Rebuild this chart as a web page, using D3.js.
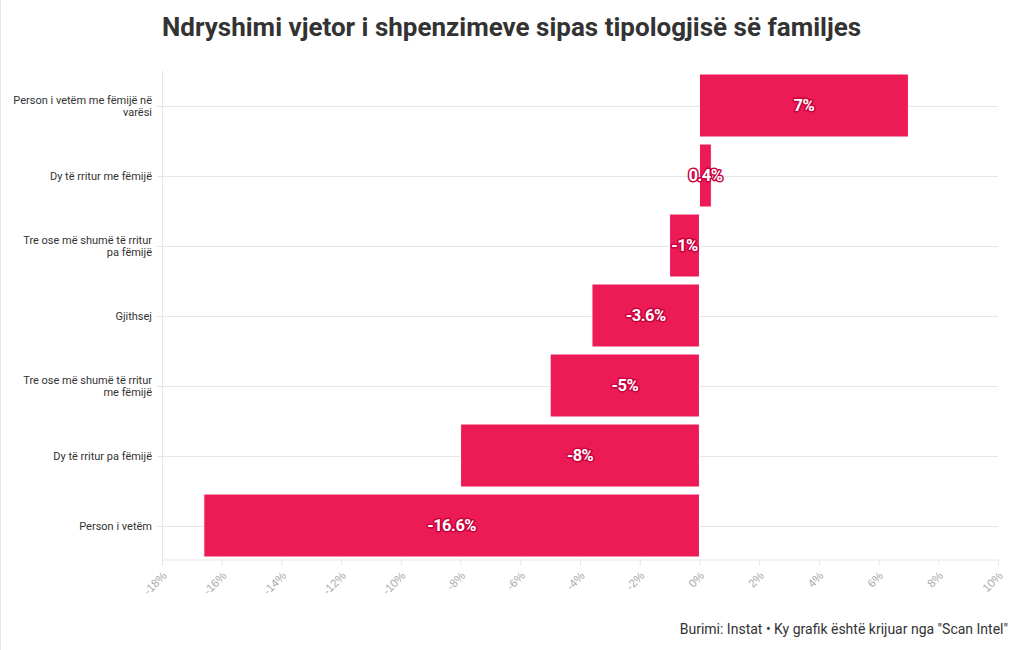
<!DOCTYPE html>
<html>
<head>
<meta charset="utf-8">
<script src="https://cdn.jsdelivr.net/npm/d3@7/dist/d3.min.js"></script>
<style>
  html, body { margin: 0; padding: 0; background: #fff; }
  svg { display: block; font-family: Roboto, "Noto Sans", sans-serif; }
</style>
</head>
<body>
<svg id="chart" width="1020" height="650"></svg>
<script>
const categories = [
  "Person i vetëm me fëmijë në varësi",
  "Dy të rritur me fëmijë",
  "Tre ose më shumë të rritur pa fëmijë",
  "Gjithsej",
  "Tre ose më shumë të rritur me fëmijë",
  "Dy të rritur pa fëmijë",
  "Person i vetëm"
];
const values = [7, 0.4, -1, -3.6, -5, -8, -16.6];
const valueLabels = ["7%", "0.4%", "-1%", "-3.6%", "-5%", "-8%", "-16.6%"];
const xTicks = [-18, -16, -14, -12, -10, -8, -6, -4, -2, 0, 2, 4, 6, 8, 10];
const title = "Ndryshimi vjetor i shpenzimeve sipas tipologjisë së familjes";
const credit = "Burimi: Instat • Ky grafik është krijuar nga \"Scan Intel\"";

const svg = d3.select("#chart");
const W = 1020, H = 650;
const plot = { left: 162, right: 998, top: 70.5, bottom: 560.5 };
const barColor = "#ec1a55";
const gridColor = "#e6e6e6";

// page left border
svg.append("line").attr("x1", 0.5).attr("x2", 0.5).attr("y1", 0).attr("y2", H)
  .attr("stroke", "#e6e6e6").attr("stroke-width", 1);

const x = d3.scaleLinear().domain([-18, 10]).range([plot.left, plot.right]);
const y = d3.scaleBand().domain(categories).range([plot.top, plot.bottom])
  .paddingInner(0.1).paddingOuter(0.05);

// title
svg.append("text")
  .attr("x", plot.left).attr("y", 36)
  .attr("fill", "#333333")
  .attr("font-size", 26).attr("font-weight", 700)
  .text(title);

// horizontal grid lines (through band centers)
svg.append("g").selectAll("line").data(categories).join("line")
  .attr("x1", plot.left - 5).attr("x2", plot.right)
  .attr("y1", d => Math.round(y(d) + y.bandwidth() / 2) + 0.5)
  .attr("y2", d => Math.round(y(d) + y.bandwidth() / 2) + 0.5)
  .attr("stroke", gridColor).attr("stroke-width", 1);

// left vertical line
svg.append("line")
  .attr("x1", plot.left + 0.5).attr("x2", plot.left + 0.5)
  .attr("y1", plot.top).attr("y2", plot.bottom)
  .attr("stroke", gridColor);

// x axis
const xAxis = d3.axisBottom(x).tickValues(xTicks).tickSize(6)
  .tickFormat(d => d + "%");
const gx = svg.append("g").attr("transform", `translate(0,${plot.bottom - 1})`).call(xAxis);
gx.select(".domain").attr("stroke", gridColor);
gx.selectAll(".tick line").attr("stroke", gridColor);
gx.selectAll(".tick text")
  .attr("fill", "#aaaaaa").attr("font-size", 11.5)
  .attr("text-anchor", "end")
  .attr("y", 0).attr("dy", 0)
  .attr("transform", "translate(5,17) rotate(-45)");

// y labels with wrapping
const yl = svg.append("g");
categories.forEach(c => {
  const cy = Math.round(y(c) + y.bandwidth() / 2);
  const t = yl.append("text")
    .attr("x", 152).attr("text-anchor", "end")
    .attr("font-size", 11).attr("fill", "#333333");
  const words = c.split(" ");
  const lines = [];
  let line = [];
  const tmp = t.append("tspan");
  words.forEach(w => {
    line.push(w);
    tmp.text(line.join(" "));
    if (tmp.node().getComputedTextLength() > 142 && line.length > 1) {
      line.pop();
      lines.push(line.join(" "));
      line = [w];
    }
  });
  lines.push(line.join(" "));
  tmp.remove();
  const lh = 12.5;
  const start = cy - (lines.length - 1) * lh / 2;
  lines.forEach((l, i) => {
    t.append("tspan").attr("x", 152).attr("y", start + i * lh).attr("dy", "0.35em").text(l);
  });
});

// bars
svg.append("g").selectAll("rect").data(values).join("rect")
  .attr("x", (d) => x(Math.min(0, d)))
  .attr("width", d => Math.abs(x(d) - x(0)))
  .attr("y", (d, i) => y(categories[i]))
  .attr("height", y.bandwidth())
  .attr("fill", barColor)
  .attr("stroke", "#ffffff").attr("stroke-width", 1);

// value labels
svg.append("g").selectAll("text").data(values).join("text")
  .attr("x", d => (x(d) + x(0)) / 2)
  .attr("y", (d, i) => y(categories[i]) + y.bandwidth() / 2)
  .attr("dy", "0.35em")
  .attr("text-anchor", "middle")
  .attr("font-size", 16.5).attr("font-weight", 700)
  .attr("fill", "#ffffff")
  .attr("stroke", "#c8003c").attr("stroke-width", 3)
  .attr("stroke-linejoin", "round")
  .attr("paint-order", "stroke")
  .attr("letter-spacing", -0.5)
  .text((d, i) => valueLabels[i]);

// credit
svg.append("text")
  .attr("x", 1008).attr("y", 634)
  .attr("text-anchor", "end")
  .attr("font-size", 14).attr("fill", "#333333")
  .text(credit);
</script>
</body>
</html>
